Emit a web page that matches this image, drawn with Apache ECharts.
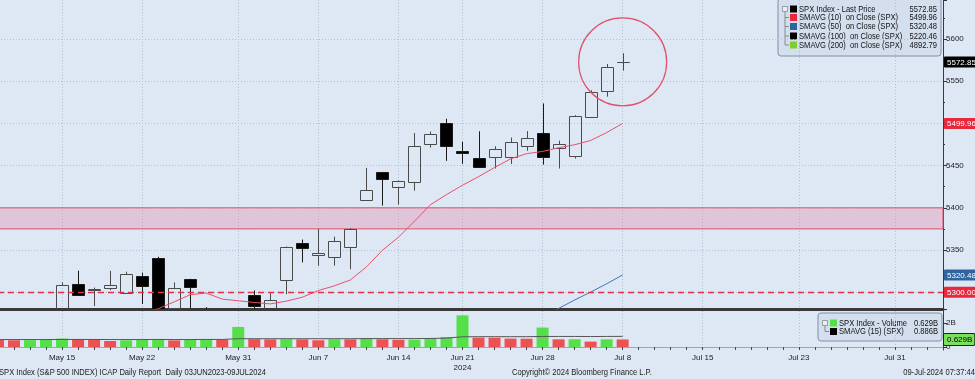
<!DOCTYPE html>
<html><head><meta charset="utf-8">
<script src="https://cdn.jsdelivr.net/npm/echarts@6/dist/echarts.min.js"></script>
<style>html,body{margin:0;padding:0;background:#dee7f4;}#c{width:975px;height:379px;}</style>
</head><body><div id="c"></div>
<script>
// ---------- data ----------
const dates = ['May 9','May 10','May 13','May 14','May 15','May 16','May 17','May 20','May 21','May 22','May 23','May 24','May 28','May 29','May 30','May 31',
 'Jun 3','Jun 4','Jun 5','Jun 6','Jun 7','Jun 10','Jun 11','Jun 12','Jun 13','Jun 14','Jun 17','Jun 18','Jun 20','Jun 21','Jun 24','Jun 25','Jun 26','Jun 27','Jun 28',
 'Jul 1','Jul 2','Jul 3','Jul 5','Jul 8','Jul 9','Jul 10','Jul 11','Jul 12','Jul 15','Jul 16','Jul 17','Jul 18','Jul 19','Jul 22','Jul 23','Jul 24','Jul 25','Jul 26','Jul 29','Jul 30','Jul 31',
 'Aug 1','Aug 2','Aug 5'];
const xTickLabels = ['May 15','May 22','May 31','Jun 7','Jun 14','Jun 21','Jun 28','Jul 8','Jul 15','Jul 23','Jul 31'];
const yearLabel = '2024';

const openP  = [5189.03,5225.49,5233.08,5221.10,5263.26,5310.07,5303.10,5305.35,5298.69,5319.28,5340.26,5281.45,5315.91,5278.73,5259.77,5243.21,
 5297.15,5278.24,5314.48,5357.80,5343.81,5341.22,5353.00,5409.13,5441.93,5424.08,5431.11,5476.15,5499.99,5466.77,5459.58,5460.73,5460.71,5473.59,5488.48,
 5471.08,5461.84,5507.44,5537.91,5572.75];
const highP  = [5215.30,5239.66,5237.26,5250.37,5311.76,5325.49,5305.45,5325.32,5324.32,5323.18,5341.88,5311.65,5315.91,5282.27,5260.21,5280.33,
 5302.11,5298.80,5354.16,5362.35,5375.08,5365.79,5375.95,5447.25,5441.93,5432.39,5488.50,5490.38,5505.53,5478.31,5490.66,5472.88,5483.14,5490.81,5523.64,
 5479.55,5509.69,5539.27,5570.33,5583.11];
const lowP   = [5180.41,5209.68,5211.16,5217.98,5263.26,5296.19,5283.59,5302.40,5297.87,5286.01,5256.93,5278.39,5280.89,5262.70,5222.10,5191.68,
 5234.32,5257.63,5297.64,5335.36,5331.33,5331.52,5327.25,5409.13,5402.51,5403.75,5420.40,5471.32,5455.56,5452.03,5447.59,5446.56,5451.87,5467.54,5451.12,
 5446.53,5458.43,5507.42,5531.63,5562.51];
const closeP = [5214.08,5222.68,5221.42,5246.68,5308.15,5297.10,5303.27,5308.13,5321.41,5307.01,5267.84,5304.72,5306.04,5266.95,5235.48,5277.51,
 5283.40,5291.34,5354.03,5352.96,5346.99,5360.79,5375.32,5421.03,5433.74,5431.60,5473.23,5487.03,5473.17,5464.62,5447.87,5469.30,5477.90,5482.87,5460.48,
 5475.09,5509.01,5537.02,5567.19,5572.85];
const sma10 = [5123.24,5135.51,5146.04,5167.14,5196.11,5219.40,5236.95,5249.69,5263.06,5274.99,5280.37,5288.57,5297.04,5299.06,5291.80,5289.84,
 5287.85,5286.17,5289.43,5294.03,5301.94,5307.55,5314.48,5329.89,5349.71,5365.12,5384.10,5403.67,5415.59,5426.75,5436.84,5447.69,5457.95,5464.13,5466.81,
 5471.16,5474.73,5479.73,5489.14,5499.96];
const sma50 = [null,null,null,null,null,null,null,null,null,null,null,null,null,null,null,null,
 null,null,null,null,null,null,null,null,null,null,null,null,null,null,null,null,null,5261.63,5270.62,
 5280.78,5290.75,5300.08,5309.99,5320.48];
const volume = [0.58,0.56,0.57,0.63,0.70,0.65,0.63,0.50,0.56,0.60,0.64,0.55,0.60,0.64,0.61,1.67,
 0.65,0.63,0.65,0.63,0.56,0.64,0.63,0.75,0.64,0.60,0.61,0.75,0.83,2.64,0.78,0.77,0.70,0.69,1.62,
 0.64,0.65,0.45,0.64,0.629];
const volDir = [-1,-1,1,1,1,-1,-1,-1,1,1,1,-1,1,1,-1,1,
 -1,-1,1,-1,-1,1,-1,1,-1,-1,1,1,1,1,-1,-1,-1,-1,1,
 -1,1,-1,1,-1];
const volSma15 = [0.62,0.62,0.62,0.62,0.63,0.63,0.63,0.62,0.62,0.62,0.63,0.62,0.62,0.63,0.63,0.69,
 0.69,0.69,0.69,0.69,0.69,0.69,0.69,0.70,0.70,0.70,0.70,0.71,0.74,0.85,0.86,0.86,0.86,0.86,0.88,
 0.88,0.88,0.87,0.88,0.886];
const bandLow = 5375, bandHigh = 5400;
const refLine = 5300;
const priceTags = [5572.85, 5499.96, 5320.48, 5300.00];
const volTags = [0.629];
const legendNames = ['SPX Index - Last Price','SMAVG (10)  on Close (SPX)','SMAVG (50)  on Close (SPX)','SMAVG (100)  on Close (SPX)','SMAVG (200)  on Close (SPX)'];
const legendValues = ['5572.85','5499.96','5320.48','5220.46','4892.79'];
const volLegendNames = ['SPX Index - Volume','SMAVG (15) (SPX)'];
const volLegendValues = ['0.629B','0.886B'];
const footLeft = 'SPX Index (S&P 500 INDEX) ICAP Daily Report  Daily 03JUN2023-09JUL2024';
const footMid = 'Copyright\u00a9 2024 Bloomberg Finance L.P.';
const footRight = '09-Jul-2024 07:37:44';

// ---------- styles ----------
const FONT = "'Liberation Sans',Arial,sans-serif";
const AX_FS = 8;
const NARROW = 0.8;
const GRIDC = '#b4bfd0';
const tagStyleNames = ['blk','red','blu','red'];
const legendColors = ['#000000','#e8283c','#2e64a0','#000000','#79d030'];
const volLegendColors = ['#55e04a','#000000'];

const ohlc = openP.map((o,i)=>[i, o, closeP[i], lowP[i], highP[i]]);
const volData = volume.map((v,i)=>({value:v, itemStyle:{color: volDir[i] > 0 ? '#55e04a' : '#ec5252'}}));
const isTick = (idx, val) => xTickLabels.indexOf(val) >= 0;

const tagBase = {padding:[2,2,1,3],fontSize:AX_FS,fontFamily:FONT,borderRadius:1};
const richTags = {
  blk:Object.assign({backgroundColor:'#000',color:'#fff'}, tagBase),
  red:Object.assign({backgroundColor:'#e8283c',color:'#fff'}, tagBase),
  blu:Object.assign({backgroundColor:'#2e64a0',color:'#fff'}, tagBase),
  grn:Object.assign({backgroundColor:'#79e05a',color:'#000',borderColor:'#222',borderWidth:1}, tagBase)
};

function txt(x, y, s, align, extra) {
  return Object.assign({type:'text', x:x, y:y, scaleX:NARROW, style:{text:s, fill:'#111', fontSize:9.5, fontFamily:FONT, verticalAlign:'middle', align:align||'left'}}, extra||{});
}
function legendGroup(x, y, w, h, names, values, colors, rowY) {
  const ch = [{type:'rect', shape:{x:0,y:0,width:w,height:h,r:3}, style:{fill:'#d4dfee',stroke:'#7f90aa',lineWidth:1}}];
  ch.push({type:'line', shape:{x1:7,y1:rowY[0]+3,x2:7,y2:rowY[rowY.length-1]}, style:{stroke:'#8a8a8a',lineWidth:1}});
  ch.push({type:'rect', shape:{x:4.5,y:rowY[0]-2.5,width:5,height:5}, style:{fill:'#e8eef6',stroke:'#8a8a8a',lineWidth:0.8}});
  names.forEach((n,i)=>{
    if (i>0) ch.push({type:'line', shape:{x1:7,y1:rowY[i],x2:11,y2:rowY[i]}, style:{stroke:'#8a8a8a',lineWidth:1}});
    ch.push({type:'rect', shape:{x:12,y:rowY[i]-3.5,width:7,height:7}, style:{fill:colors[i]}});
    ch.push(txt(21, rowY[i], n, 'left'));
    ch.push(txt(w-4, rowY[i], values[i], 'right'));
  });
  return {type:'group', x:x, y:y, z:100, children:ch};
}

function renderCandle(params, api) {
  const idx = api.value(0);
  const o = api.value(1), c = api.value(2), l = api.value(3), h = api.value(4);
  const po = api.coord([idx, o]), pc = api.coord([idx, c]);
  const pl = api.coord([idx, l]), ph = api.coord([idx, h]);
  const x = Math.round(po[0]) + 0.5;
  const half = 6;
  const top = Math.round(Math.min(po[1], pc[1])) + 0.5;
  const bot = Math.max(Math.round(Math.max(po[1], pc[1])) + 0.5, top);
  const down = c < o;
  const stroke = down ? '#1a1a1a' : '#4a4a4a';
  return {type:'group', children:[
    {type:'line', shape:{x1:x, y1:ph[1], x2:x, y2:top}, style:{stroke:stroke, lineWidth:1}},
    {type:'line', shape:{x1:x, y1:bot, x2:x, y2:pl[1]}, style:{stroke:stroke, lineWidth:1}},
    {type:'rect', shape:{x:x-half, y:top, width:half*2, height:bot-top},
     style:{fill: down ? '#000' : 'rgba(0,0,0,0)', stroke:stroke, lineWidth:1}}
  ]};
}

const chart = echarts.init(document.getElementById('c'), null, {renderer:'canvas'});
const option = {
  backgroundColor:'#dee7f4',
  animation:false,
  textStyle:{fontFamily:FONT},
  grid:[
    {left:-2, right:32, top:0, height:309, outerBoundsMode:'none', containLabel:false},
    {left:-2, right:32, top:311, height:39, outerBoundsMode:'none', containLabel:false}
  ],
  xAxis:[
    {type:'category', gridIndex:0, data:dates, boundaryGap:false,
     axisLine:{show:true, lineStyle:{color:'#3a3a3a', width:3}},
     axisTick:{show:false}, axisLabel:{show:false},
     splitLine:{show:true, interval:isTick, lineStyle:{color:GRIDC, type:[1,2], width:1}}},
    {type:'category', gridIndex:1, data:dates, boundaryGap:false,
     axisLine:{show:true, lineStyle:{color:'#9aa6b8', width:1}},
     axisTick:{show:true, interval:0, length:3, lineStyle:{color:'#444'}},
     axisLabel:{show:true, interval:isTick, margin:3, fontSize:AX_FS, fontFamily:FONT, color:'#222', lineHeight:10,
       formatter:(v)=> v==='Jun 21' ? v + '\n' + yearLabel : v},
     splitLine:{show:true, interval:isTick, lineStyle:{color:GRIDC, type:[1,2], width:1}}}
  ],
  yAxis:[
    {type:'value', gridIndex:0, position:'right', min:5280.1, max:5646.2, splitNumber:7, scale:true,
     axisLine:{show:true, lineStyle:{color:'#3a3a3a', width:1}},
     axisTick:{show:true, length:4, lineStyle:{color:'#333'}},
     minorTick:{show:true, splitNumber:2, length:2, lineStyle:{color:'#333'}},
     axisLabel:{show:true, margin:3, fontSize:AX_FS, fontFamily:FONT, color:'#222', showMinLabel:false, showMaxLabel:false,
       formatter:(v)=> v===5300 ? '' : String(v)},
     splitLine:{show:true, showMinLine:false, showMaxLine:false, lineStyle:{color:GRIDC, type:[1,2], width:1}}},
    {type:'value', gridIndex:0, position:'right', min:5280.1, max:5646.2,
     axisLine:{show:false}, axisTick:{show:false}, splitLine:{show:false},
     axisLabel:{show:true, margin:1, customValues:priceTags, rich:richTags,
       formatter:(v)=>{ let k=0, d=1e9; priceTags.forEach((t,i)=>{ if(Math.abs(t-v)<d){d=Math.abs(t-v);k=i;} }); return '{'+tagStyleNames[k]+'|'+priceTags[k].toFixed(2)+'}'; }}},
    {type:'value', gridIndex:1, position:'right', min:-0.25, max:3.0,
     axisLine:{show:true, lineStyle:{color:'#3a3a3a', width:1}},
     axisTick:{show:true, length:4, customValues:[0,2], lineStyle:{color:'#333'}},
     axisLabel:{show:true, margin:3, fontSize:AX_FS, fontFamily:FONT, color:'#222', customValues:[0,2],
       formatter:(v)=> v===0 ? '0' : v+'B'},
     splitLine:{show:false}},
    {type:'value', gridIndex:1, position:'right', min:-0.25, max:3.0,
     axisLine:{show:false}, axisTick:{show:false}, splitLine:{show:false},
     axisLabel:{show:true, margin:1, customValues:volTags, rich:richTags,
       formatter:(v)=> '{grn|'+volTags[0].toFixed(3)+'B}'}}
  ],
  series:[
    {name:'SMAVG (50)', type:'line', xAxisIndex:0, yAxisIndex:0, data:sma50, showSymbol:false, symbol:'none', clip:true,
     lineStyle:{color:'#3f78b4', width:1}, z:1,
     markArea:{silent:true, data:[[{yAxis:bandLow},{yAxis:bandHigh}]],
       itemStyle:{color:'rgba(226,150,180,0.42)', borderColor:'#e0506a', borderWidth:1}},
     markLine:{silent:true, symbol:['none','none'], label:{show:false},
       data:[{yAxis:refLine}], lineStyle:{type:[6,4], color:'#e8304a', width:1.3}},
     markPoint:{silent:true, symbol:'circle', symbolSize:88, label:{show:false},
       data:[{coord:[dates[closeP.length-1], closeP[closeP.length-1]]}],
       itemStyle:{color:'rgba(0,0,0,0)', borderColor:'#e0506a', borderWidth:1.2}}},
    {name:'SPX Index - Last Price', type:'custom', xAxisIndex:0, yAxisIndex:0, data:ohlc, clip:true,
     encode:{x:0, y:[1,2,3,4]}, renderItem:renderCandle, z:2},
    {name:'SMAVG (10)', type:'line', xAxisIndex:0, yAxisIndex:0, data:sma10, showSymbol:false, symbol:'none', clip:true,
     lineStyle:{color:'#e8506a', width:1}, z:3},
    {name:'Volume', type:'bar', xAxisIndex:1, yAxisIndex:2, data:volData, barWidth:12},
    {name:'Vol SMAVG (15)', type:'line', xAxisIndex:1, yAxisIndex:2, data:volSma15, showSymbol:false, symbol:'none',
     lineStyle:{color:'#555', width:1}, z:3}
  ],
  graphic:[
    legendGroup(778, -2, 163, 58, legendNames, legendValues, legendColors, [11, 19.5, 28.5, 38, 47]),
    legendGroup(818, 313, 124, 28, volLegendNames, volLegendValues, volLegendColors, [10, 18.5]),
    txt(-1, 372, footLeft, 'left', {style:{text:footLeft, fill:'#222', fontSize:9.5, fontFamily:FONT, verticalAlign:'middle', align:'left'}}),
    txt(512, 372, footMid, 'left', {style:{text:footMid, fill:'#222', fontSize:9.5, fontFamily:FONT, verticalAlign:'middle', align:'left'}}),
    txt(975, 372, footRight, 'right', {style:{text:footRight, fill:'#222', fontSize:9.5, fontFamily:FONT, verticalAlign:'middle', align:'right'}})
  ]
};
chart.setOption(option);
</script></body></html>
